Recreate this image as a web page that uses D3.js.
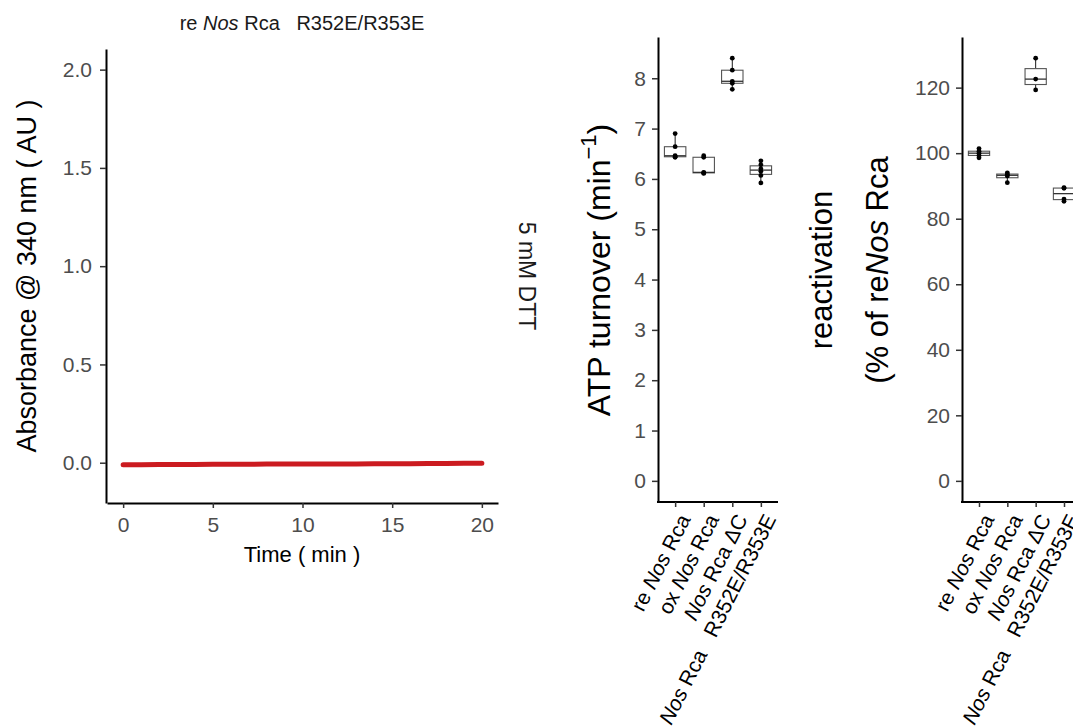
<!DOCTYPE html>
<html>
<head>
<meta charset="utf-8">
<script src="https://cdn.jsdelivr.net/npm/d3@7"></script>
<style>
  html, body { margin: 0; padding: 0; background: #fff; }
  svg { display: block; font-family: "Liberation Sans", Arial, Helvetica, sans-serif; }
</style>
</head>
<body>
<svg id="fig" width="1073" height="726"></svg>
<script>
// ---- Absorbance trace (5 mM DTT), one reading per minute ----
const traceTime = [0, 1, 2, 3, 4, 5, 6, 7, 8, 9, 10, 11, 12, 13, 14, 15, 16, 17, 18, 19, 20];
const traceAbs  = [-0.010, -0.010, -0.009, -0.009, -0.009, -0.008, -0.008, -0.008, -0.007, -0.007,
                   -0.007, -0.006, -0.006, -0.006, -0.005, -0.005, -0.005, -0.004, -0.004, -0.003, -0.003];
const traceTicksX = [0, 5, 10, 15, 20];
const traceTicksY = [0, 0.5, 1, 1.5, 2];

// ---- Rca variants ----
const variants = ["reNos", "oxNos", "dC", "mut"];

// ATP turnover (min^-1), replicate measurements
const atpRe  = [6.43, 6.44, 6.46, 6.64, 6.90];
const atpOx  = [6.11, 6.12, 6.13, 6.43, 6.46];
const atpDC  = [7.78, 7.90, 7.94, 8.16, 8.40];
const atpMut = [5.92, 6.07, 6.15, 6.20, 6.28, 6.36];
const atpTicks = [0, 1, 2, 3, 4, 5, 6, 7, 8];

// Reactivation (% of reNos Rca), replicate measurements
const reacRe  = [98.6, 99.3, 100.0, 100.6, 101.4];
const reacOx  = [91.0, 93.0, 93.5, 94.0];
const reacDC  = [119.3, 122.6, 129.0];
const reacMut = [85.3, 86.0, 89.3, 89.5];
const reacTicks = [0, 20, 40, 60, 80, 100, 120];

const svg = d3.select("#fig");
const TICK_COL = "#4d4d4d";
const TICK_FS = 21;

// Label parts: [text, italic]
function labelParts(v) {
  switch (v) {
    case "reNos": return [["re ", false], ["Nos", true], [" Rca", false]];
    case "oxNos": return [["ox ", false], ["Nos", true], [" Rca", false]];
    case "dC":    return [["Nos", true], [" Rca \u0394C", false]];
    case "mut":   return [["Nos", true], [" Rca\u00a0\u00a0\u00a0R352E/R353E", false]];
  }
}
function writeParts(textSel, parts) {
  parts.forEach(([t, it]) => {
    textSel.append("tspan").attr("font-style", it ? "italic" : "normal").text(t);
  });
}

function styleAxis(g) {
  g.select(".domain").attr("stroke", "#000").attr("stroke-width", 2);
  g.selectAll(".tick line").attr("stroke", "#333").attr("stroke-width", 1.5);
  g.selectAll(".tick text").attr("fill", TICK_COL).attr("font-size", TICK_FS);
}

// ================= Panel 1: absorbance trace =================
{
  const x = d3.scaleLinear().domain([-0.9, 20.9]).range([107, 498]);
  const y = d3.scaleLinear().domain([-0.205, 2.105]).range([503, 49]);

  const ya = svg.append("g").attr("transform", "translate(106,0)")
    .call(d3.axisLeft(y).tickValues(traceTicksY).tickFormat(d3.format(".1f")).tickSize(6).tickSizeOuter(0).tickPadding(8));
  styleAxis(ya);
  const xa = svg.append("g").attr("transform", "translate(0,503)")
    .call(d3.axisBottom(x).tickValues(traceTicksX).tickFormat(d3.format("d")).tickSize(5).tickSizeOuter(0).tickPadding(9));
  styleAxis(xa);

  const pts = traceTime.map((t, i) => [t, traceAbs[i]]);
  svg.append("path")
    .attr("d", d3.line().x(d => x(d[0])).y(d => y(d[1]))(pts))
    .attr("fill", "none").attr("stroke", "#cb1b20").attr("stroke-width", 5)
    .attr("stroke-linecap", "round");

  // panel title
  const t = svg.append("text").attr("x", 302).attr("y", 30).attr("text-anchor", "middle")
    .attr("font-size", 20).attr("fill", "#1a1a1a");
  writeParts(t, [["re ", false], ["Nos", true], [" Rca\u00a0\u00a0\u00a0R352E/R353E", false]]);

  // strip label
  svg.append("text").attr("transform", "translate(519,276) rotate(90)")
    .attr("text-anchor", "middle").attr("font-size", 23).attr("fill", "#1a1a1a").text("5 mM DTT");

  svg.append("text").attr("x", 302).attr("y", 562).attr("text-anchor", "middle")
    .attr("font-size", 22).attr("fill", "#000").text("Time ( min )");
  svg.append("text").attr("transform", "translate(36,276) rotate(-90)")
    .attr("text-anchor", "middle").attr("font-size", 27).attr("fill", "#000")
    .text("Absorbance @ 340 nm ( AU )");
}

// ================= Box plot panels =================
function boxPanel(opts) {
  const { x0, x1, yDomain, ticks, groups } = opts;
  // discrete positions with 0.6 units of padding at each end
  const step = (x1 - x0) / 4.2;
  const x = d3.scalePoint().domain(variants).range([x0 + 0.6 * step, x1 - 0.6 * step]);
  const y = d3.scaleLinear().domain(yDomain).range([502, 37]);

  const ya = svg.append("g").attr("transform", `translate(${x0},0)`)
    .call(d3.axisLeft(y).tickValues(ticks).tickFormat(d3.format("d")).tickSize(6).tickSizeOuter(0).tickPadding(6));
  styleAxis(ya);

  const xa = svg.append("g").attr("transform", "translate(0,502)")
    .call(d3.axisBottom(x).tickSize(5).tickSizeOuter(0).tickFormat(""));
  xa.select(".domain").attr("d", `M${x0 - 1},0H${x1}`);
  styleAxis(xa);
  xa.selectAll(".tick text").remove();

  variants.forEach(v => {
    const t = svg.append("text")
      .attr("transform", `translate(${x(v) + 2},512) rotate(-63)`)
      .attr("text-anchor", "end").attr("dy", "0.74em")
      .attr("font-size", TICK_FS).attr("fill", "#000");
    writeParts(t, labelParts(v));
  });

  const bw = step * 0.75;
  variants.forEach((v, i) => {
    const vals = groups[i].slice().sort(d3.ascending);
    const q1 = d3.quantileSorted(vals, 0.25), med = d3.quantileSorted(vals, 0.5), q3 = d3.quantileSorted(vals, 0.75);
    const iqr = q3 - q1;
    const lo = d3.min(vals.filter(d => d >= q1 - 1.5 * iqr));
    const hi = d3.max(vals.filter(d => d <= q3 + 1.5 * iqr));
    const c = x(v);
    const g = svg.append("g");
    g.append("line").attr("x1", c).attr("x2", c).attr("y1", y(hi)).attr("y2", y(q3)).attr("stroke", "#1a1a1a").attr("stroke-width", 1);
    g.append("line").attr("x1", c).attr("x2", c).attr("y1", y(q1)).attr("y2", y(lo)).attr("stroke", "#1a1a1a").attr("stroke-width", 1);
    g.append("rect").attr("x", c - bw / 2).attr("width", bw).attr("y", y(q3)).attr("height", Math.max(0.5, y(q1) - y(q3)))
      .attr("fill", "#fff").attr("stroke", "#555").attr("stroke-width", 1.1);
    g.append("line").attr("x1", c - bw / 2).attr("x2", c + bw / 2).attr("y1", y(med)).attr("y2", y(med))
      .attr("stroke", "#333").attr("stroke-width", 1.3);
    g.selectAll("circle").data(vals).join("circle")
      .attr("cx", c).attr("cy", d => y(d)).attr("r", 2.4).attr("fill", "#000");
  });
}

boxPanel({ x0: 658, x1: 778, yDomain: [-0.42, 8.82], ticks: atpTicks, groups: [atpRe, atpOx, atpDC, atpMut] });
boxPanel({ x0: 962, x1: 1081, yDomain: [-6.45, 135.45], ticks: reacTicks, groups: [reacRe, reacOx, reacDC, reacMut] });

// y titles of the box plot panels
{
  const t = svg.append("text").attr("transform", "translate(610,270) rotate(-90)")
    .attr("text-anchor", "middle").attr("font-size", 32).attr("fill", "#000");
  t.append("tspan").text("ATP turnover (min");
  t.append("tspan").attr("font-size", 22).attr("dy", -14).text("\u22121");
  t.append("tspan").attr("dy", 14).text(")");

  svg.append("text").attr("transform", "translate(832,270) rotate(-90)")
    .attr("text-anchor", "middle").attr("font-size", 31).attr("fill", "#000").text("reactivation");
  const t2 = svg.append("text").attr("transform", "translate(888,270) rotate(-90)")
    .attr("text-anchor", "middle").attr("font-size", 31).attr("fill", "#000");
  writeParts(t2, [["(% of re", false], ["Nos", true], [" Rca", false]]);
}
</script>
</body>
</html>
